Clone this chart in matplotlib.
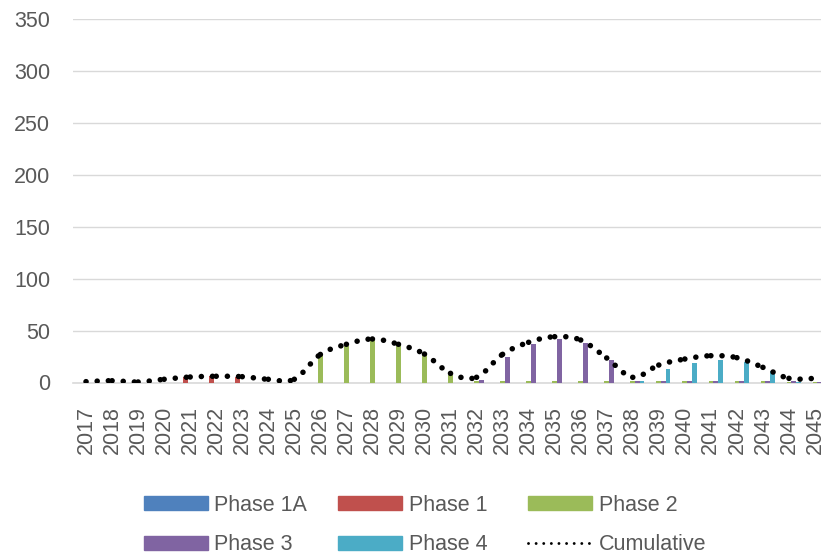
import matplotlib.pyplot as plt
import numpy as np
from matplotlib.patches import Patch
from matplotlib.lines import Line2D

plt.rcParams['font.family'] = ['Liberation Sans', 'DejaVu Sans']

years = list(range(2017, 2046))

# Annual values per phase
phase_1a = [0] * 29
phase_1 = [0, 0, 0, 0, 5, 6, 5.5, 0, 0,
           0, 0, 0, 0, 0, 0, 0, 0, 0, 0, 0, 0, 0, 0, 0, 0, 0, 0, 0, 0]
phase_2 = [0, 0, 0, 0, 0, 0, 0, 0, 0,
           26.5, 35.5, 42, 36, 26.5, 7.2, 1.5, 1.2, 1.2, 1.2, 1.2, 1, 1, 1, 1, 1, 1, 1, 0.8, 0.5]
phase_3 = [0, 0, 0, 0, 0, 0, 0, 0, 0,
           0, 0, 0, 0, 0, 0, 2, 24.3, 37, 41.9, 38.3, 21.4, 1.3, 1.5, 1.5, 1.5, 1.5, 1.5, 1, 0.5]
phase_4 = [0, 0, 0, 0, 0, 0, 0, 0, 0,
           0, 0, 0, 0, 0, 0, 0, 0, 0, 0, 0, 0, 1, 13, 18.8, 21.7, 19.7, 11, 0.5, 0]
cumulative = [0.8, 1.7, 0.5, 3.1, 5.3, 6.0, 5.6, 3.1, 3.1,
              27, 36.8, 41.9, 36.8, 27.4, 8.8, 5, 27.1, 38.7, 44.1, 40.9,
              23.6, 5, 16.8, 22.6, 25.8, 23.9, 14.6, 4, 4]

series = [
    ('Phase 1A', phase_1a, '#4F81BD'),
    ('Phase 1', phase_1, '#C0504D'),
    ('Phase 2', phase_2, '#9BBB59'),
    ('Phase 3', phase_3, '#8064A2'),
    ('Phase 4', phase_4, '#4BACC6'),
]

text_color = '#595959'
grid_color = '#d9d9d9'
fs = 15.5

fig = plt.figure(figsize=(8.21, 5.56), dpi=100)
ax = fig.add_axes([73 / 821, 173.5 / 556, 755 / 821, 363.5 / 556])

x = np.arange(len(years))
bw = 0.18
for k, (name, vals, col) in enumerate(series):
    ax.bar(x + (k - 2) * bw, vals, width=bw, color=col, zorder=2)


def catmull_rom(xs, ys, n=24):
    # smooth curve through the points, one piece per segment
    px = np.concatenate([[xs[0]], xs, [xs[-1]]])
    py = np.concatenate([[ys[0]], ys, [ys[-1]]])
    pieces = []
    t = np.linspace(0, 1, n)
    for i in range(1, len(px) - 2):
        p0, p1, p2, p3 = [np.array([px[j], py[j]]) for j in (i - 1, i, i + 1, i + 2)]
        c1 = p1 + (p2 - p0) / 6
        c2 = p2 - (p3 - p1) / 6
        pts = ((1 - t) ** 3)[:, None] * p1 + (3 * (1 - t) ** 2 * t)[:, None] * c1 \
            + (3 * (1 - t) * t ** 2)[:, None] * c2 + (t ** 3)[:, None] * p2
        pieces.append(pts)
    return pieces


for seg in catmull_rom(x.astype(float), np.array(cumulative, dtype=float)):
    ax.plot(seg[:, 0], seg[:, 1], color='black', lw=4.0,
            linestyle=(0, (0.01, 2.0)), dash_capstyle='round', zorder=3)

ax.set_xlim(-0.5, len(years) - 0.5)
ax.set_ylim(0, 350)
ax.set_yticks(range(0, 351, 50))
ax.set_xticks(x)
ax.set_xticklabels([str(y) for y in years], rotation=90)
ax.tick_params(axis='both', length=0, labelsize=fs, labelcolor=text_color)
ax.tick_params(axis='y', pad=16.5)
ax.tick_params(axis='x', pad=17)
ax.yaxis.grid(True, color=grid_color, lw=1.0, zorder=0)
ax.set_axisbelow(True)
for s in ['top', 'right', 'left']:
    ax.spines[s].set_visible(False)
ax.spines['bottom'].set_color(grid_color)
ax.spines['bottom'].set_linewidth(1.2)
ax.spines['bottom'].set_zorder(1)

# legend: three columns, two rows
handles = [Patch(color=c) for _, _, c in series]
handles.append(Line2D([], [], color='black', lw=2.1, linestyle=(0, (0.01, 2.6)),
                      dash_capstyle='round'))
labels = [s[0] for s in series] + ['Cumulative']
columns = [[0, 3], [1, 4], [2, 5]]
col_x = [143.5, 338, 528]
for idx, cx in zip(columns, col_x):
    fig.legend([handles[i] for i in idx], [labels[i] for i in idx],
               loc='center left', bbox_to_anchor=(cx / 821, 31 / 556),
               frameon=False, borderpad=0, borderaxespad=0,
               handlelength=2.98, handleheight=0.6, handletextpad=0.3,
               labelspacing=0.88, fontsize=fs, labelcolor=text_color)

fig.savefig('out.png', dpi=100)
